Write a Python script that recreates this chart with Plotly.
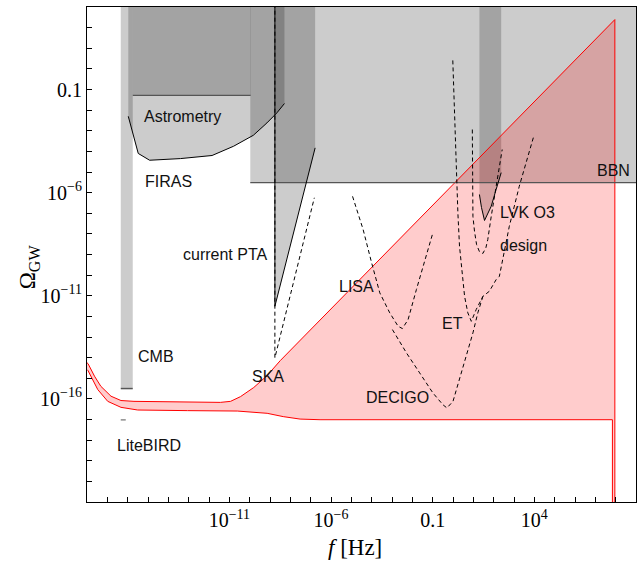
import numpy as np
import plotly.graph_objects as go

# ---------------- data (log10 f [Hz], log10 Omega_GW) ----------------
band_upper_lf = [-18.0, -17.95, -17.63, -17.32, -16.82, -16.33, -15.69, -13.06, -11.44, -10.94, -10.45, -9.80, -9.14, -8.49, 7.96, 7.96]
band_upper_lo = [-14.25, -14.29, -14.90, -15.39, -15.87, -16.08, -16.12, -16.17, -16.17, -16.12, -15.89, -15.45, -14.87, -14.14, 2.39, -21.5]
band_lower_lf = [-18.0, -17.95, -17.47, -16.98, -16.33, -15.51, -13.06, -10.61, -9.14, -8.35, -7.52, -6.54, 7.84, 7.84]
band_lower_lo = [-14.58, -14.63, -15.55, -16.12, -16.41, -16.54, -16.57, -16.59, -16.70, -16.86, -16.98, -17.01, -17.01, -21.5]

cmb_lf = [-16.34, -15.75]
cmb_limit_lo = -15.5
litebird_lo = -17.02

box_lf = [-15.75, -9.95]
box_lo = -1.28

astro_lf = [-15.97, -15.73, -15.48, -14.92, -13.40, -11.85, -10.79, -9.82, -9.15, -8.66, -8.29]
astro_lo = [-2.30, -3.18, -4.10, -4.43, -4.35, -4.20, -3.75, -3.22, -2.62, -2.13, -1.68]

bbn_lf = [-9.97, 9.5]
bbn_lo = -5.52

pta_lf = [-8.76, -8.76, -6.78]
pta_lo = [3.5, -11.51, -3.83]

ska_lf = [-8.76, -8.76, -6.82]
ska_lo = [3.5, -14.01, -6.25]

lvk_band_lf = [1.30, 2.37]
lvk_lf = [1.30, 1.40, 1.55, 1.70, 1.88, 2.12, 2.37]
lvk_lo = [-6.09, -6.72, -7.35, -7.01, -6.66, -5.85, -5.03]

design_lf = [0.95, 0.95, 0.98, 1.06, 1.16, 1.30, 1.47, 1.62, 1.71, 1.88, 2.12, 2.28, 2.42]
design_lo = [-2.94, -5.53, -7.15, -7.89, -8.52, -8.86, -8.95, -8.66, -8.28, -7.15, -5.69, -4.88, -3.91]

et_lf = [-0.01, 0.08, 0.13, 0.16, 0.24, 0.32, 0.41, 0.57, 0.73, 0.90, 1.14, 1.47, 1.79, 2.12, 2.28, 2.77, 3.26, 3.97]
et_lo = [0.41, -2.30, -3.91, -5.53, -6.98, -8.60, -9.41, -11.03, -11.83, -12.24, -11.67, -11.03, -10.78, -10.22, -10.06, -7.63, -5.69, -3.27]

decigo_lf = [-2.98, -2.29, -1.64, -0.99, -0.50, -0.30, 0.00, 0.32, 0.65, 0.98, 1.22, 1.47]
decigo_lo = [-12.64, -13.77, -14.74, -15.71, -16.28, -16.44, -16.12, -15.07, -13.94, -12.80, -11.83, -11.03]

lisa_lf = [-4.94, -4.42, -4.00, -3.60, -3.11, -2.70, -2.49, -2.21, -1.80, -1.39, -0.99]
lisa_lo = [-6.18, -7.79, -9.41, -10.86, -11.83, -12.48, -12.59, -12.16, -10.70, -9.25, -7.95]

x_tick_exp = [-11, -6, -1, 4]
x_tick_text = ["10<sup>−11</sup>", "10<sup>−6</sup>", "0.1", "10<sup>4</sup>"]
y_tick_exp = [-16, -11, -6, -1]
y_tick_text = ["10<sup>−16</sup>", "10<sup>−11</sup>", "10<sup>−6</sup>", "0.1"]

labels = [
    ("Astrometry", -13.30, -2.31, "center"),
    ("FIRAS", -13.99, -5.46, "center"),
    ("CMB", -14.63, -13.95, "center"),
    ("LiteBIRD", -14.97, -18.27, "center"),
    ("current PTA", -9.00, -9.0, "right"),
    ("SKA", -9.09, -14.92, "center"),
    ("LISA", -4.73, -10.55, "center"),
    ("ET", -0.02, -12.35, "center"),
    ("DECIGO", -2.72, -15.94, "center"),
    ("LVK O3", 2.20, -6.97, "left"),
    ("design", 2.20, -8.55, "left"),
    ("BBN", 7.87, -4.93, "center"),
]

TOP = 3.5
P = lambda a: np.power(10.0, np.asarray(a, dtype=float))
GRAY = "rgba(0,0,0,0.2)"
EDGE = "#555555"
DASH = "4px,3px"

fig = go.Figure()

def poly(lf, lo, fill=GRAY):
    fig.add_trace(go.Scatter(x=P(lf), y=P(lo), mode="lines", fill="toself",
                             fillcolor=fill, line=dict(width=0), hoverinfo="skip", showlegend=False))

def line(lf, lo, color="black", width=1, dash=None):
    fig.add_trace(go.Scatter(x=P(lf), y=P(lo), mode="lines",
                             line=dict(color=color, width=width, dash=dash),
                             hoverinfo="skip", showlegend=False))

# gray exclusion regions
poly([cmb_lf[0], cmb_lf[1], cmb_lf[1], cmb_lf[0]], [cmb_limit_lo, cmb_limit_lo, TOP, TOP])
poly([box_lf[0], box_lf[1], box_lf[1], box_lf[0]], [box_lo, box_lo, TOP, TOP])
poly(astro_lf + [astro_lf[-1], astro_lf[0]], astro_lo + [TOP, TOP])
poly([bbn_lf[0], bbn_lf[1], bbn_lf[1], bbn_lf[0]], [bbn_lo, bbn_lo, TOP, TOP])
poly(pta_lf + [pta_lf[-1]], pta_lo + [TOP])
poly([lvk_band_lf[0]] + lvk_lf + [lvk_band_lf[1]], [TOP] + lvk_lo + [TOP])

# pink predicted band
fig.add_trace(go.Scatter(x=P(band_upper_lf + band_lower_lf[::-1]),
                         y=P(band_upper_lo + band_lower_lo[::-1]),
                         mode="lines", fill="toself", fillcolor="rgba(255,0,0,0.2)",
                         line=dict(width=0), hoverinfo="skip", showlegend=False))
line(band_upper_lf, band_upper_lo, color="red", width=1)
line(band_lower_lf, band_lower_lo, color="red", width=1)

# region edges
line(cmb_lf, [cmb_limit_lo] * 2, color=EDGE, width=1.5)
line(cmb_lf, [litebird_lo] * 2, color=EDGE, width=1, dash="5px,7px")
line(box_lf, [box_lo] * 2, color=EDGE, width=1.2)
line(bbn_lf, [bbn_lo] * 2, color=EDGE, width=1.2)
line(astro_lf, astro_lo)
line(pta_lf, pta_lo)
line(lvk_lf, lvk_lo)

# sensitivity curves
line(ska_lf, ska_lo, dash=DASH)
line(lisa_lf, lisa_lo, dash=DASH)
line(decigo_lf, decigo_lo, dash=DASH)
line(et_lf, et_lo, dash=DASH)
line(design_lf, design_lo, dash=DASH)

for text, lx, ly, anchor in labels:
    fig.add_annotation(x=lx, y=ly, xref="x", yref="y", text=text, showarrow=False,
                       xanchor=anchor, yanchor="middle",
                       font=dict(family="Liberation Sans, Arial", size=16, color="#111111"))

fig.add_annotation(text="Ω<sub>GW</sub>", x=-0.105, y=0.475, xref="paper", yref="paper",
                   showarrow=False, textangle=-90, xanchor="center", yanchor="middle",
                   font=dict(family="Liberation Serif, Times New Roman", size=23, color="black"))
fig.add_annotation(text="<i>f</i> [Hz]", x=0.488, y=-0.092, xref="paper", yref="paper",
                   showarrow=False, xanchor="center", yanchor="middle",
                   font=dict(family="Liberation Serif, Times New Roman", size=23, color="black"))

axis_common = dict(type="log", showgrid=False, zeroline=False, showline=True, mirror=True,
                   linecolor="black", linewidth=1, ticks="inside", ticklen=5, tickcolor="black",
                   tickfont=dict(family="Liberation Serif, Times New Roman", size=20, color="black"))
fig.update_xaxes(range=[-18, 9], tickmode="array", tickvals=[10.0 ** k for k in x_tick_exp],
                 ticktext=x_tick_text,
                 minor=dict(tickmode="array", tickvals=[10.0 ** k for k in range(-18, 10)],
                            ticks="inside", ticklen=5, tickcolor="black", showgrid=False),
                 **axis_common)
fig.update_yaxes(range=[-21, 3], tickmode="array", tickvals=[10.0 ** k for k in y_tick_exp],
                 ticktext=y_tick_text,
                 minor=dict(tickmode="array", tickvals=[10.0 ** k for k in range(-21, 4)],
                            ticks="inside", ticklen=5, tickcolor="black", showgrid=False),
                 **axis_common)

fig.update_layout(width=641, height=563, margin=dict(l=87, r=5, t=7, b=61, autoexpand=False),
                  plot_bgcolor="white", paper_bgcolor="white", showlegend=False)

fig.write_html("out.html", config={"displayModeBar": False},
               post_script="document.body.style.margin='0px';document.body.style.padding='0px';")
